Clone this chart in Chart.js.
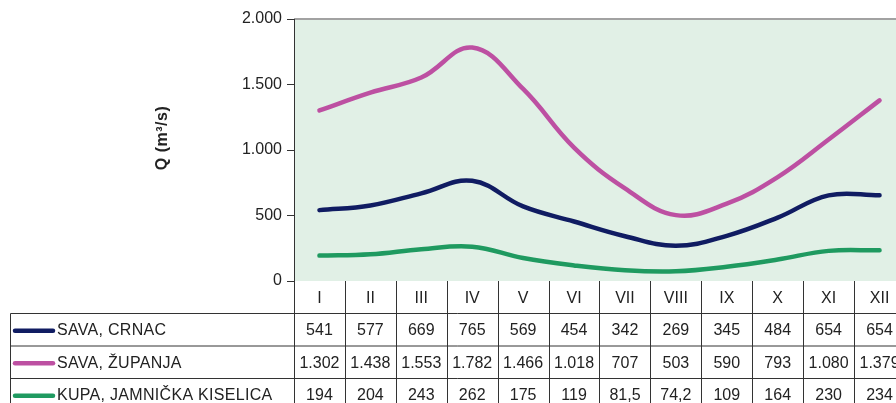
<!DOCTYPE html>
<html>
<head>
<meta charset="utf-8">
<script src="https://cdn.jsdelivr.net/npm/chart.js@4"></script>
<style>
  html, body { margin: 0; padding: 0; background: #fff; overflow: hidden; }
  #wrap { width: 910px; height: 403px; position: relative; }
</style>
</head>
<body>
<div id="wrap"><canvas id="chart" width="910" height="403"></canvas></div>
<script>
/* ---------- Data ---------- */
const months = ['I', 'II', 'III', 'IV', 'V', 'VI', 'VII', 'VIII', 'IX', 'X', 'XI', 'XII'];
const seriesNames = ['SAVA, CRNAC', 'SAVA, ŽUPANJA', 'KUPA, JAMNIČKA KISELICA'];
const savaCrnac = [541, 577, 669, 765, 569, 454, 342, 269, 345, 484, 654, 654];
const savaZupanja = [1302, 1438, 1553, 1782, 1466, 1018, 707, 503, 590, 793, 1080, 1379];
const kupaJamnicka = [194, 204, 243, 262, 175, 119, 81.5, 74.2, 109, 164, 230, 234];
const yTicks = [0, 500, 1000, 1500, 2000];
const seriesColors = ['#101c62', '#bd50a2', '#1f9a60'];

const FONT = '"Liberation Sans", Arial, sans-serif';
const fmt = v => v.toLocaleString('de-DE');

/* ---------- Background, border, title and data table ---------- */
const tablePlugin = {
  id: 'tablePlugin',
  beforeDraw(chart) {
    const { ctx, chartArea: a } = chart;
    ctx.save();
    ctx.fillStyle = '#e1f0e6';
    ctx.fillRect(a.left, a.top, a.right - a.left, a.bottom - a.top);
    ctx.strokeStyle = '#a2a2a2';
    ctx.lineWidth = 2;
    ctx.beginPath();
    ctx.moveTo(a.left, a.top);
    ctx.lineTo(a.right, a.top);
    ctx.stroke();
    ctx.restore();
  },
  afterDraw(chart) {
    const { ctx, chartArea: a, scales: { x } } = chart;
    const colW = x.getPixelForValue(1) - x.getPixelForValue(0);
    const rows = [281, 313.5, 346, 378.5, 411];
    const tableLeft = 10.5;
    const data = [savaCrnac, savaZupanja, kupaJamnicka];

    ctx.save();
    ctx.strokeStyle = '#333';
    ctx.lineWidth = 1;
    ctx.beginPath();
    // column lines
    for (let i = 0; i <= months.length; i++) {
      const cx = Math.round(x.getPixelForValue(i) - colW / 2) + 0.5;
      ctx.moveTo(cx, a.bottom);
      ctx.lineTo(cx, rows[4]);
    }
    // row lines
    for (let r = 1; r < 4; r++) {
      ctx.moveTo(tableLeft, rows[r]);
      ctx.lineTo(a.right, rows[r]);
    }
    ctx.moveTo(tableLeft, rows[1]);
    ctx.lineTo(tableLeft, rows[4]);
    ctx.stroke();

    ctx.fillStyle = '#222';
    ctx.font = '16px ' + FONT;
    ctx.textAlign = 'center';
    ctx.textBaseline = 'middle';
    months.forEach((m, i) => {
      ctx.fillText(m, x.getPixelForValue(i), (rows[0] + rows[1]) / 2 + 1);
    });
    data.forEach((vals, r) => {
      const cy = (rows[r + 1] + rows[r + 2]) / 2 + 1;
      ctx.letterSpacing = '0px';
      vals.forEach((v, i) => {
        ctx.fillText(fmt(v), x.getPixelForValue(i), cy);
      });
      // legend key
      ctx.strokeStyle = seriesColors[r];
      ctx.lineWidth = 4.5;
      ctx.lineCap = 'round';
      ctx.beginPath();
      ctx.moveTo(15, cy);
      ctx.lineTo(53, cy);
      ctx.stroke();
      ctx.textAlign = 'left';
      ctx.letterSpacing = '0.3px';
      ctx.fillText(seriesNames[r], 57, cy);
      ctx.textAlign = 'center';
    });

    // y axis title
    ctx.letterSpacing = '0.5px';
    ctx.font = 'bold 16px ' + FONT;
    ctx.translate(163, 138);
    ctx.rotate(-Math.PI / 2);
    ctx.fillText('Q (m³/s)', 0, 0);
    ctx.restore();
  }
};

/* ---------- Chart ---------- */
const lineDataset = (label, data, color) => ({
  label,
  data,
  borderColor: color,
  backgroundColor: color,
  borderWidth: 4.5,
  borderCapStyle: 'round',
  pointRadius: 0,
  tension: 0.4,
  clip: false
});

new Chart(document.getElementById('chart'), {
  type: 'line',
  data: {
    labels: months,
    datasets: [
      lineDataset(seriesNames[0], savaCrnac, seriesColors[0]),
      lineDataset(seriesNames[1], savaZupanja, seriesColors[1]),
      lineDataset(seriesNames[2], kupaJamnicka, seriesColors[2])
    ]
  },
  options: {
    responsive: false,
    animation: false,
    layout: { padding: { left: 0, top: 19, right: 5, bottom: 122 } },
    plugins: {
      legend: { display: false },
      tooltip: { enabled: false }
    },
    scales: {
      x: {
        offset: true,
        afterFit: scale => { scale.height = 0; },
        grid: { display: false },
        border: { display: false },
        ticks: { display: false }
      },
      y: {
        min: 0,
        max: 2000,
        afterFit: scale => { scale.width = 294; },
        afterBuildTicks: scale => { scale.ticks = yTicks.map(v => ({ value: v })); },
        border: { display: true, color: '#333', width: 1 },
        grid: { drawOnChartArea: false, tickLength: 7, color: '#333' },
        ticks: {
          color: '#222',
          padding: 5,
          font: { size: 16, family: FONT },
          callback: v => fmt(v)
        }
      }
    }
  },
  plugins: [tablePlugin]
});
</script>
</body>
</html>
